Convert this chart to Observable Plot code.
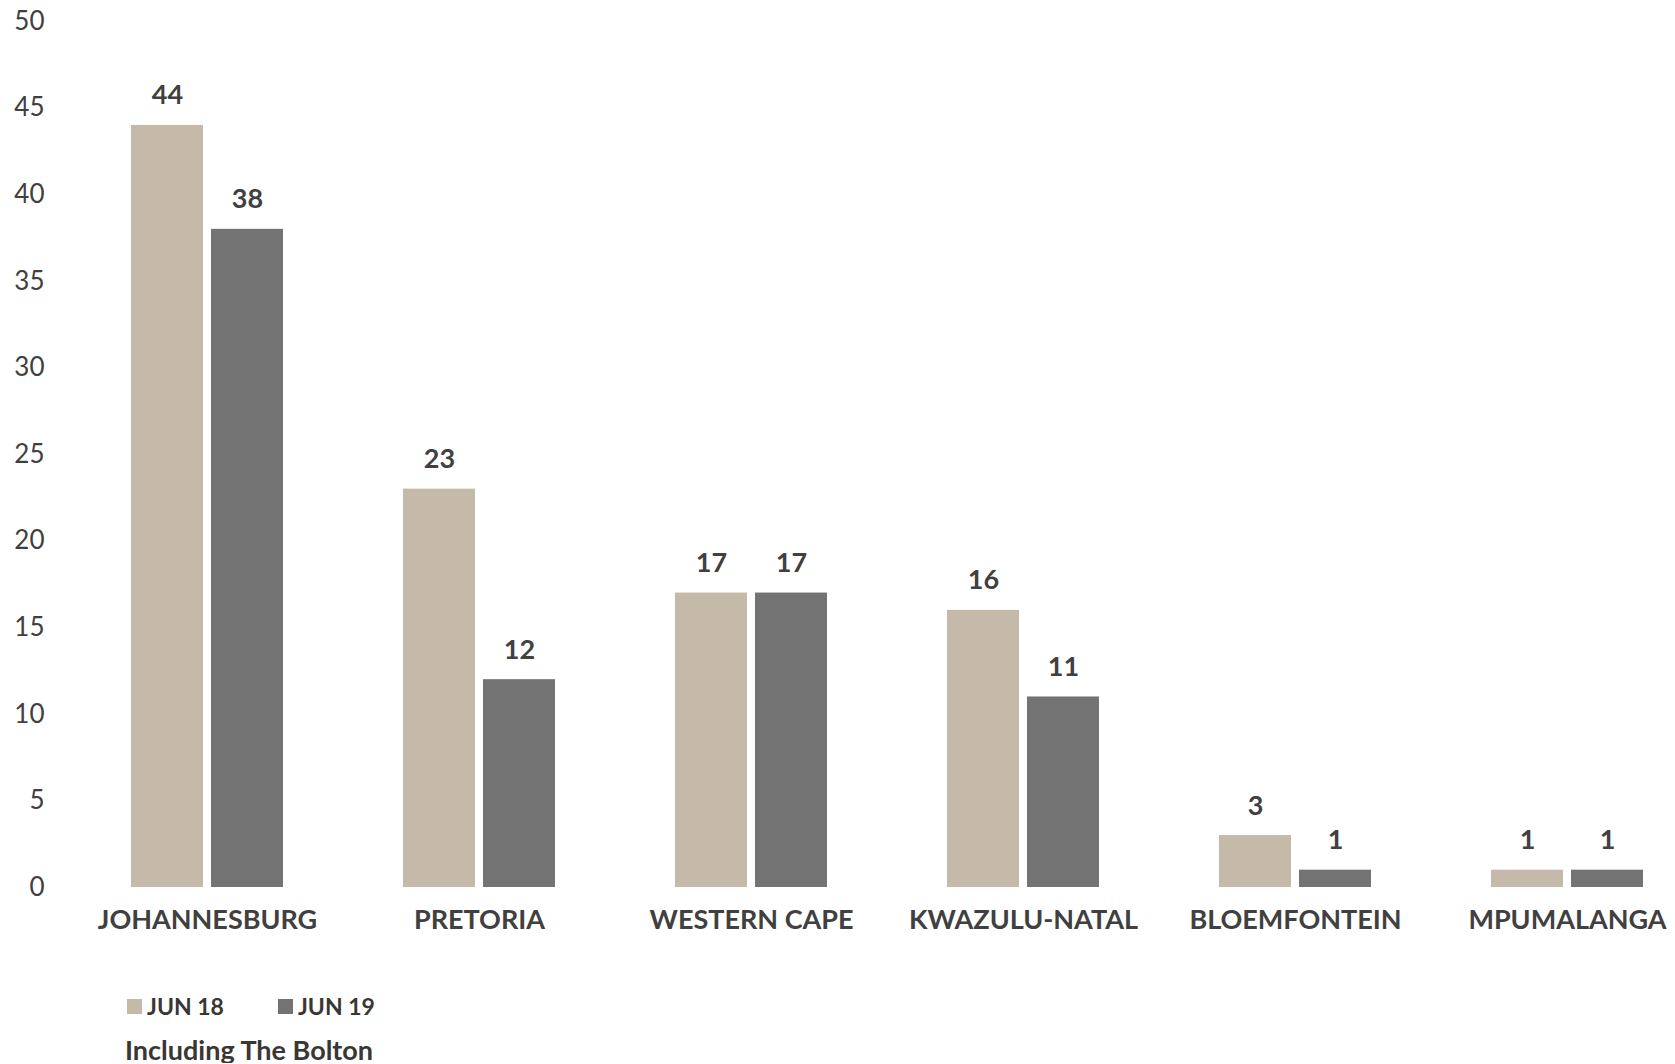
<!DOCTYPE html>
<html>
<head>
<meta charset="utf-8">
<script src="https://cdn.jsdelivr.net/npm/d3@7"></script>
<script src="https://cdn.jsdelivr.net/npm/@observablehq/plot@0.6"></script>
<style>
  body { margin: 0; background: #fff; font-family: Lato, "Open Sans", sans-serif; }
  #chart svg { overflow: hidden; }
  .legend { display: flex; align-items: center; margin-top: 45px; padding-left: 127px; height: 23px; line-height: 23px; font-size: 23px; font-weight: 700; color: #3a3633; }
  .legend .item { display: flex; align-items: center; margin-right: 54px; }
  .legend .sw { width: 15px; height: 15px; margin-right: 5px; display: inline-block; }
  .caption { margin-top: 18px; padding-left: 125px; font-size: 27px; line-height: 27px; font-weight: 700; color: #3a3633; }
</style>
</head>
<body>
<div id="chart"></div>
<div class="legend" id="legend"></div>
<div class="caption">Including The Bolton</div>
<script>
const cities = ["JOHANNESBURG", "PRETORIA", "WESTERN CAPE", "KWAZULU-NATAL", "BLOEMFONTEIN", "MPUMALANGA"];
const series = ["JUN 18", "JUN 19"];
const jun18 = [44, 23, 17, 16, 3, 1];
const jun19 = [38, 12, 17, 11, 1, 1];
const colors = ["#c5b9aa", "#737373"];
const yTicks = [0, 5, 10, 15, 20, 25, 30, 35, 40, 45, 50];

const data = [];
cities.forEach((c, i) => {
  data.push({city: c, series: series[0], value: jun18[i]});
  data.push({city: c, series: series[1], value: jun19[i]});
});

const chart = Plot.plot({
  width: 1675,
  height: 950,
  marginLeft: 71,
  marginRight: -28,
  marginTop: 21,
  marginBottom: 63,
  style: {fontFamily: "Lato, 'Open Sans', sans-serif", background: "#fff"},
  fx: {domain: cities, padding: 0},
  x: {domain: series, paddingInner: 0.1, paddingOuter: 0.75, axis: null},
  y: {domain: [0, 50], axis: null},
  color: {domain: series, range: colors},
  marks: [
    Plot.barY(data, {fx: "city", x: "series", y: "value", fill: "series"}),
    Plot.text(data, {fx: "city", x: "series", y: "value", text: d => String(d.value), dy: -21, lineAnchor: "bottom", fontSize: 27, fontWeight: 700, fill: "#404040"}),
    Plot.axisY({ticks: yTicks, tickSize: 0, tickPadding: 27, fontSize: 26, fill: "#404040", anchor: "left", label: null}),
    Plot.axisFx({anchor: "bottom", tickSize: 0, tickPadding: 22, fontSize: 27, fontWeight: 700, fill: "#404040", label: null})
  ]
});
document.getElementById("chart").appendChild(chart);

const legend = document.getElementById("legend");
series.forEach((s, i) => {
  const item = document.createElement("span");
  item.className = "item";
  const sw = document.createElement("span");
  sw.className = "sw";
  sw.style.background = colors[i];
  item.appendChild(sw);
  item.appendChild(document.createTextNode(s));
  legend.appendChild(item);
});
</script>
</body>
</html>
